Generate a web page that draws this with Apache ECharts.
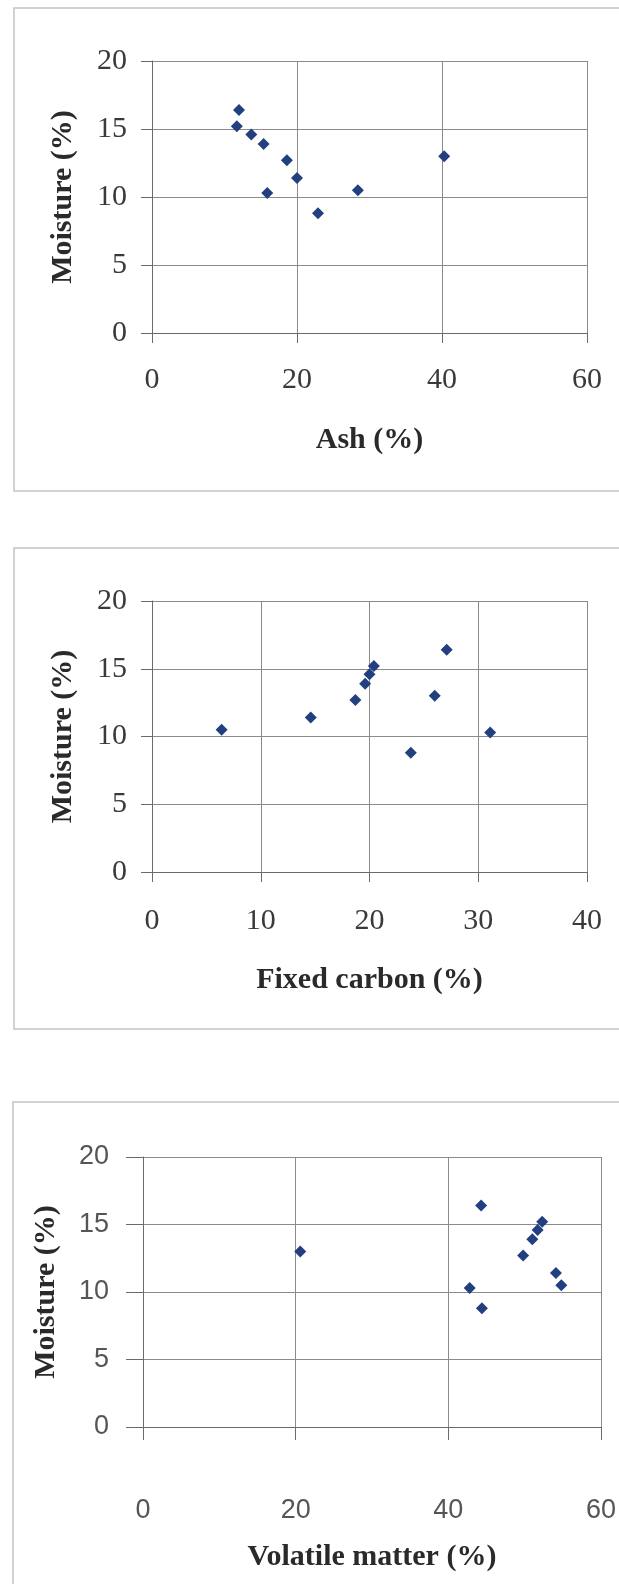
<!DOCTYPE html>
<html>
<head>
<meta charset="utf-8">
<script src="https://cdn.jsdelivr.net/npm/echarts@6/dist/echarts.min.js"></script>
<style>
html,body{margin:0;padding:0;background:#fff;}
#chart{width:619px;height:1584px;}
</style>
</head>
<body>
<div id="chart"></div>
<script>
// Sample values (same sample order in every array)
const moisture       = [16.4, 15.2, 14.6, 13.9, 12.7, 11.4, 10.3, 8.8, 10.5, 13.0];
const ash            = [12.0, 11.7, 13.7, 15.4, 18.6, 20.0, 15.9, 22.9, 28.4, 40.3];
const fixedCarbon    = [27.1, 20.4, 20.0, 19.6, 18.7, 14.6, 31.1, 23.8, 6.4, 26.0];
const volatileMatter = [44.3, 52.3, 51.7, 51.0, 49.8, 54.1, 42.8, 44.4, 54.8, 20.6];

const xTitles = ['Ash (%)', 'Fixed carbon (%)', 'Volatile matter (%)'];
const yTitle = 'Moisture (%)';
const xMax = [60, 40, 60];
const xStep = [20, 10, 20];
const yMax = 20, yStep = 5;

const pair = (xs) => xs.map((x, i) => [x, moisture[i]]);
const xData = [ash, fixedCarbon, volatileMatter];

const grids = [
  {left: 152, top: 61, width: 435, height: 272},
  {left: 152, top: 601, width: 435, height: 271},
  {left: 143, top: 1157, width: 460, height: 270}
];
const serif = '"Liberation Serif","Times New Roman",serif';
const sans = '"Liberation Sans",Arial,sans-serif';
const tickFont = [serif, serif, sans];
const tickSize = [30, 30, 27];
const tickColor = ['#3a3a3a', '#3a3a3a', '#555'];
const xLabelMargin = [32, 34, 70];
const yLabelMargin = [25, 25, 34];
const xNameGap = [92, 93, 115];
const yNameGap = [74, 74, 82];
const yTickLen = [11, 11, 17];
const xTickLen = [10, 10, 13];

const lineCol = '#8a8a8a';
const axisCol = '#6a6a6a';

const option = {
  animation: false,
  backgroundColor: '#ffffff',
  grid: grids,
  xAxis: grids.map((g, i) => ({
    type: 'value', gridIndex: i, min: 0, max: xMax[i], interval: xStep[i],
    name: xTitles[i], nameLocation: 'middle', nameGap: xNameGap[i],
    nameTextStyle: {fontFamily: serif, fontWeight: 'bold', fontSize: 30, color: '#2a2a2a'},
    axisLine: {show: true, onZero: false, lineStyle: {color: axisCol, width: 1}},
    axisTick: {show: true, inside: false, length: xTickLen[i], lineStyle: {color: axisCol}},
    axisLabel: {margin: xLabelMargin[i], fontFamily: tickFont[i], fontSize: tickSize[i], color: tickColor[i]},
    splitLine: {show: true, lineStyle: {color: lineCol, width: 1}}
  })),
  yAxis: grids.map((g, i) => ({
    type: 'value', gridIndex: i, min: 0, max: yMax, interval: yStep,
    name: yTitle, nameLocation: 'middle', nameGap: yNameGap[i],
    nameTextStyle: {fontFamily: serif, fontWeight: 'bold', fontSize: 30, color: '#2a2a2a'},
    axisLine: {show: true, onZero: false, lineStyle: {color: axisCol, width: 1}},
    axisTick: {show: true, inside: false, length: yTickLen[i], lineStyle: {color: axisCol}},
    axisLabel: {margin: yLabelMargin[i], fontFamily: tickFont[i], fontSize: tickSize[i], color: tickColor[i]},
    splitLine: {show: true, lineStyle: {color: lineCol, width: 1}}
  })),
  series: xData.map((xs, i) => ({
    type: 'scatter', xAxisIndex: i, yAxisIndex: i,
    symbol: 'diamond', symbolSize: 12,
    itemStyle: {color: '#22407f', opacity: 1},
    data: pair(xs)
  })),
  graphic: [
    {type: 'rect', shape: {x: 14, y: 8, width: 620, height: 483}, style: {fill: 'none', stroke: '#c4c4c4', lineWidth: 1.5}, z: -1},
    {type: 'rect', shape: {x: 14, y: 548, width: 620, height: 481}, style: {fill: 'none', stroke: '#c4c4c4', lineWidth: 1.5}, z: -1},
    {type: 'rect', shape: {x: 13, y: 1102, width: 620, height: 500}, style: {fill: 'none', stroke: '#c4c4c4', lineWidth: 1.5}, z: -1}
  ]
};

const chart = echarts.init(document.getElementById('chart'), null, {renderer: 'canvas'});
chart.setOption(option);
</script>
</body>
</html>
